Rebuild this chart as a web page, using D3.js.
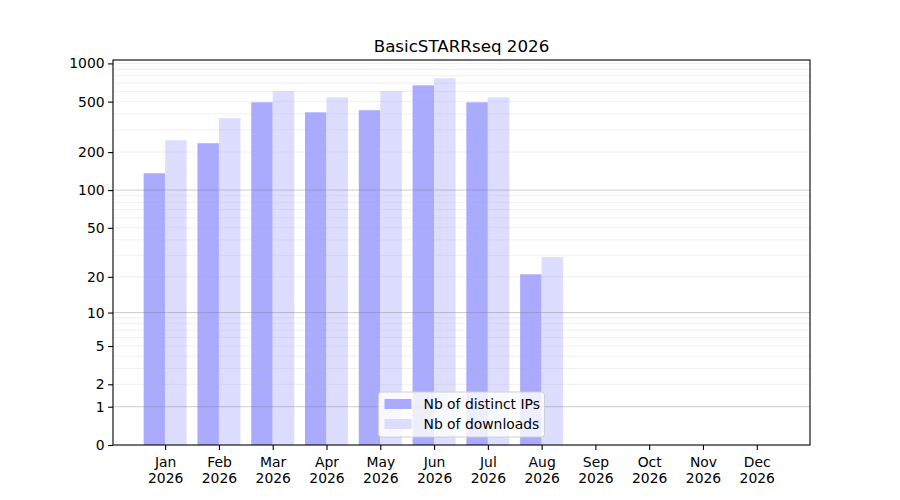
<!DOCTYPE html>
<html>
<head>
<meta charset="utf-8">
<script src="https://cdn.jsdelivr.net/npm/d3@7"></script>
<style>
  body { margin: 0; background: #fff; }
  text { font-family: "DejaVu Sans", sans-serif; }
</style>
</head>
<body>
<div id="chart"></div>
<script>
// data
const months = ["Jan", "Feb", "Mar", "Apr", "May", "Jun", "Jul", "Aug", "Sep", "Oct", "Nov", "Dec"];
const year = "2026";
const distinctIPs = [136, 235, 494, 412, 428, 672, 494, 21, 0, 0, 0, 0];
const downloads = [248, 370, 603, 541, 603, 763, 541, 29, 0, 0, 0, 0];
const yTicks = [0, 1, 2, 5, 10, 20, 50, 100, 200, 500, 1000];
const majorGrid = [1, 10, 100];
const minorGrid = [2, 3, 4, 5, 6, 7, 8, 9, 20, 30, 40, 50, 60, 70, 80, 90, 200, 300, 400, 500, 600, 700, 800, 900, 1000];

// set the dimensions and margins of the graph
const margin = {top: 60, right: 90, bottom: 55, left: 113},
      width = 900 - margin.left - margin.right,
      height = 500 - margin.top - margin.bottom;

const svg = d3.select("#chart")
  .append("svg")
  .attr("width", 900)
  .attr("height", 500)
  .append("g")
  .attr("transform", `translate(${margin.left}, ${margin.top})`);

// x is the month index, like matplotlib bar positions
const x = d3.scaleLinear()
  .domain([-0.97, 11.99])
  .range([0, width]);

// symlog with constant 1 -> log(1 + v)
const yMax = Math.expm1(Math.log1p(d3.max(downloads)) * 1.05);
const y = d3.scaleSymlog()
  .constant(1)
  .domain([0, yMax])
  .range([height, 0]);

const barW = 0.4;

// bars
svg.selectAll(".ips")
  .data(distinctIPs)
  .join("rect")
    .attr("class", "ips")
    .attr("x", (d, i) => x(i - barW))
    .attr("width", x(barW) - x(0))
    .attr("y", d => y(d))
    .attr("height", d => height - y(d))
    .style("fill", "#aaaaff");

svg.selectAll(".dl")
  .data(downloads)
  .join("rect")
    .attr("class", "dl")
    .attr("x", (d, i) => x(i))
    .attr("width", x(barW) - x(0))
    .attr("y", d => y(d))
    .attr("height", d => height - y(d))
    .style("fill", "#ddddff");

// grid lines drawn on top, semi transparent
svg.selectAll(".minor")
  .data(minorGrid)
  .join("line")
    .attr("class", "minor")
    .attr("x1", 0).attr("x2", width)
    .attr("y1", d => y(d)).attr("y2", d => y(d))
    .style("stroke", "#b0b0b0")
    .style("stroke-opacity", 0.25)
    .style("stroke-width", 0.8);

svg.selectAll(".major")
  .data(majorGrid)
  .join("line")
    .attr("class", "major")
    .attr("x1", 0).attr("x2", width)
    .attr("y1", d => y(d)).attr("y2", d => y(d))
    .style("stroke", "#808080")
    .style("stroke-opacity", 0.5)
    .style("stroke-width", 0.8);

// y axis
const yAxis = svg.append("g")
  .call(d3.axisLeft(y).tickValues(yTicks).tickFormat(d3.format("d")).tickSize(4.9).tickPadding(3.5));

// x axis with two line labels
const xAxis = svg.append("g")
  .attr("transform", `translate(0, ${height})`)
  .call(d3.axisBottom(x).tickValues(d3.range(months.length)).tickFormat("").tickSize(4.9));

xAxis.selectAll(".tick").append("text")
  .attr("fill", "#000")
  .attr("text-anchor", "middle")
  .style("font-size", "13.9px")
  .selectAll("tspan")
  .data(i => [months[i], year])
  .join("tspan")
    .attr("x", 0)
    .attr("y", (d, j) => 22 + j * 16)
    .text(d => d);

[yAxis, xAxis].forEach(a => {
  a.select(".domain").remove();
  a.selectAll(".tick line").style("stroke", "#000").style("stroke-width", 1.1);
});
yAxis.selectAll("text").style("font-size", "13.9px").attr("fill", "#000");

// frame
svg.append("rect")
  .attr("width", width)
  .attr("height", height)
  .style("fill", "none")
  .style("stroke", "#000")
  .style("stroke-width", 1.1);

// title
svg.append("text")
  .attr("x", width / 2)
  .attr("y", -8)
  .attr("text-anchor", "middle")
  .style("font-size", "16.7px")
  .text("BasicSTARRseq 2026");

// legend, lower center
const legend = svg.append("g")
  .attr("transform", `translate(${width / 2 - 83}, ${height - 53})`);

legend.append("rect")
  .attr("width", 166)
  .attr("height", 45)
  .attr("rx", 3)
  .style("fill", "#fff")
  .style("fill-opacity", 0.8)
  .style("stroke", "#d0d0d0");

const legendItems = [["Nb of distinct IPs", "#aaaaff"], ["Nb of downloads", "#ddddff"]];
legendItems.forEach(([label, col], i) => {
  legend.append("rect")
    .attr("x", 6)
    .attr("y", 7 + i * 20)
    .attr("width", 27)
    .attr("height", 10)
    .style("fill", col);
  legend.append("text")
    .attr("x", 45)
    .attr("y", 17 + i * 20)
    .style("font-size", "13.9px")
    .text(label);
});
</script>
</body>
</html>
